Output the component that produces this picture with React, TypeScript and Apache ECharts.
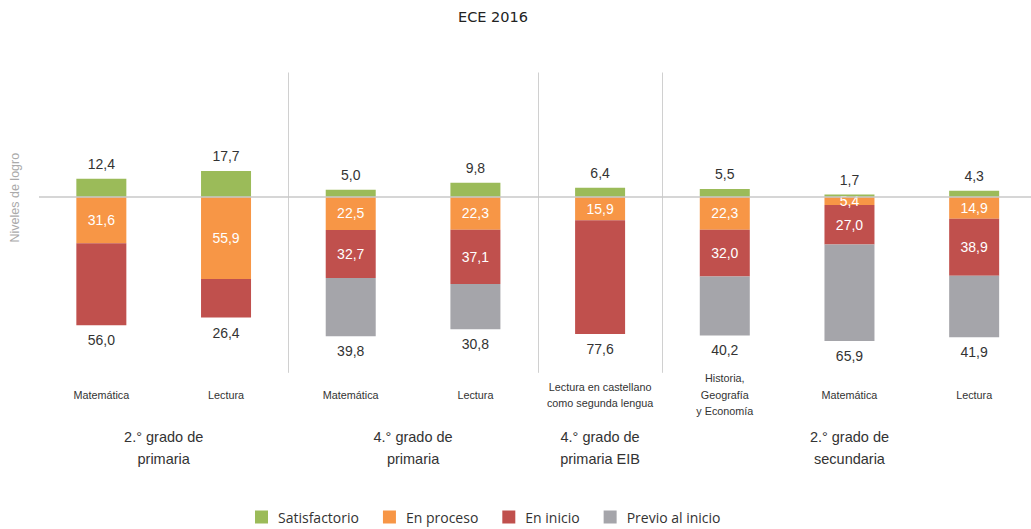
import React, { useEffect, useRef } from "react";
import * as echarts from "echarts";

const categories = [
  "Matemática",
  "Lectura",
  "Matemática",
  "Lectura",
  "Lectura en castellano\ncomo segunda lengua",
  "Historia,\nGeografía\ny Economía",
  "Matemática",
  "Lectura",
];
const groupLabels = [
  "", "", "2.° grado de\nprimaria", "", "", "", "4.° grado de\nprimaria", "", "",
  "4.° grado de\nprimaria EIB", "", "", "", "2.° grado de\nsecundaria", "", "", "",
];
const separatorsBefore = [2, 4, 5];

const satisfactorio = [12.4, 17.7, 5.0, 9.8, 6.4, 5.5, 1.7, 4.3];
const enProceso = [31.6, 55.9, 22.5, 22.3, 15.9, 22.3, 5.4, 14.9];
const enInicio = [56.0, 26.4, 32.7, 37.1, 77.6, 32.0, 27.0, 38.9];
const previo: (number | null)[] = [null, null, 39.8, 30.8, null, 40.2, 65.9, 41.9];

const colors = ["#9BBB59", "#F79646", "#C0504D", "#A5A5AA"];

const fmt = (v: number) => Math.abs(v).toFixed(1).replace(".", ",");
const labelFont = "Liberation Sans, Arial, sans-serif";

export default function App() {
  const ref = useRef<HTMLDivElement>(null);
  useEffect(() => {
    if (!ref.current) return;
    const chart = echarts.init(ref.current, null, { renderer: "svg" });
    const lastIsInicio = previo.map((p) => p === null);
    chart.setOption({
      animation: false,
      title: {
        text: "ECE 2016",
        left: 453,
        top: 4,
        textStyle: { fontFamily: "DejaVu Sans", fontSize: 14.5, fontWeight: "normal", color: "#222" },
      },
      grid: { left: 39, width: 997.5, top: 72.5, bottom: 156.2, outerBoundsMode: "none", containLabel: false },
      legend: {
        top: 508,
        left: 250,
        padding: [2, 5],
        itemWidth: 13,
        itemHeight: 13,
        itemGap: 24,
        icon: "rect",
        textStyle: { fontFamily: "Open Sans", fontSize: 14, color: "#333", padding: [0, 0, 0, 5] },
        data: ["Satisfactorio", "En proceso", "En inicio", "Previo al inicio"],
      },
      xAxis: [
        {
          type: "category",
          data: categories,
          axisLine: { show: false },
          axisTick: { show: false },
          axisLabel: {
            interval: 0,
            margin: 22,
            verticalAlign: "middle",
            fontFamily: labelFont,
            fontSize: 10.8,
            lineHeight: 16.5,
            color: "#333",
          },
          splitLine: {
            show: true,
            interval: (index: number) => separatorsBefore.includes(index),
            lineStyle: { color: "#d0d0d0", width: 1 },
          },
        },
        {
          type: "category",
          data: groupLabels,
          boundaryGap: false,
          position: "bottom",
          axisLine: { show: false },
          axisTick: { show: false },
          axisLabel: {
            interval: 0,
            margin: 75,
            verticalAlign: "middle",
            fontFamily: labelFont,
            fontSize: 14.5,
            lineHeight: 22,
            color: "#333",
          },
          splitLine: { show: false },
        },
      ],
      yAxis: {
        type: "value",
        min: -120,
        max: 85,
        axisLabel: { show: false },
        axisLine: { show: false },
        axisTick: { show: false },
        splitLine: { show: false },
        name: "Niveles de logro",
        nameLocation: "middle",
        nameRotate: 90,
        nameGap: 18,
        nameTextStyle: { fontFamily: labelFont, fontSize: 12.5, color: "#aaa", padding: [0, 0, 0, 50] },
      },
      series: [
        {
          name: "Satisfactorio",
          type: "bar",
          stack: "all",
          barWidth: 50,
          itemStyle: { color: colors[0] },
          label: {
            show: true,
            position: "top",
            distance: 8,
            formatter: (p: any) => fmt(p.value),
            fontFamily: labelFont,
            fontSize: 14,
            color: "#333",
          },
          data: satisfactorio,
          markLine: {
            silent: true,
            symbol: "none",
            label: { show: false },
            lineStyle: { color: "#c8c8c8", type: "solid", width: 1.5 },
            data: [{ yAxis: 0 }],
          },
        },
        {
          name: "En proceso",
          type: "bar",
          stack: "all",
          barWidth: 50,
          itemStyle: { color: colors[1] },
          label: {
            show: true,
            position: "inside",
            formatter: (p: any) => fmt(p.value),
            fontFamily: labelFont,
            fontSize: 14,
            color: "#fff",
          },
          data: enProceso.map((v) => -v),
        },
        {
          name: "En inicio",
          type: "bar",
          stack: "all",
          barWidth: 50,
          itemStyle: { color: colors[2] },
          data: enInicio.map((v, i) => ({
            value: -v,
            label: lastIsInicio[i]
              ? { show: true, position: "bottom", distance: 8, color: "#333" }
              : { show: true, position: "inside", color: "#fff" },
          })),
          label: {
            show: true,
            formatter: (p: any) => fmt(p.value),
            fontFamily: labelFont,
            fontSize: 14,
          },
        },
        {
          name: "Previo al inicio",
          type: "bar",
          stack: "all",
          barWidth: 50,
          itemStyle: { color: colors[3] },
          label: {
            show: true,
            position: "bottom",
            distance: 8,
            formatter: (p: any) => fmt(p.value),
            fontFamily: labelFont,
            fontSize: 14,
            color: "#333",
          },
          data: previo.map((v) => (v === null ? null : -v)),
        },
      ],
    });
    return () => chart.dispose();
  }, []);
  return (
    <div
      ref={ref}
      style={{ position: "fixed", left: 0, top: 0, width: 1031, height: 529, background: "#fff" }}
    />
  );
}
